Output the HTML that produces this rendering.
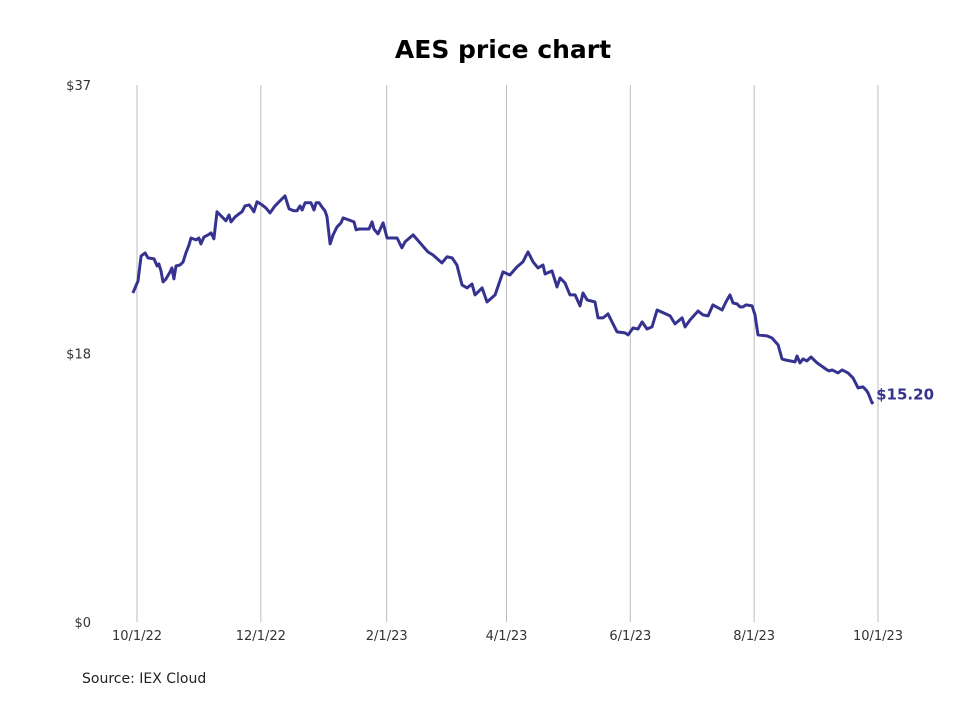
<!DOCTYPE html>
<html><head><meta charset="utf-8"><style>
body{margin:0;background:#fff;}
svg text{font-family:"DejaVu Sans","Liberation Sans",sans-serif;}
</style></head><body>
<svg width="980" height="699" xmlns="http://www.w3.org/2000/svg">
<text x="503" y="58" text-anchor="middle" font-size="25" font-weight="bold" fill="#000">AES price chart</text>
<g id="grid"></g>
<g id="yaxis"></g>
<g id="xaxis"></g>
<path id="line" fill="none" stroke="#35338f" stroke-width="3" stroke-linejoin="round"/>
<text id="lastlbl" font-size="15" font-weight="bold" fill="#35338f"></text>
<text x="82" y="683" font-size="14" fill="#222">Source: IEX Cloud</text>
</svg>
<script>
const days=[-2,0.5,2,4,5.4,8.4,9.9,10.8,11.8,12.8,14.3,16.3,17.2,18.2,19.2,21.2,22.7,24.1,25.6,26.6,29.1,30.5,31.5,33,35,36.5,37.9,39.4,41.9,43.8,45.3,46.3,48.3,50.2,51.7,53.2,55.2,56.7,57.6,59.1,61.6,63.5,65.5,68,70.9,72.9,74.9,77.3,78.8,80.3,81.3,82.8,85.7,87.2,88.2,89.7,91.1,92.6,93.6,95.1,96.6,98.5,100.5,101.5,104.4,106.9,107.9,109.4,112.3,114.3,115.8,116.7,118.7,121.2,123.2,128.1,130.5,132,136,143.3,145.8,150.2,152.7,155.2,157.6,160.1,162.6,165,166.5,170,172.4,176.4,180.3,183.7,187.2,190.1,192.6,195.1,197.5,200,201,204.4,206.9,208.4,210.8,213.3,215.8,218.2,219.7,221.7,225.6,227.1,229.6,232,236.5,240.4,241.9,244.3,246.8,248.8,251.2,253.7,256.2,262.6,265,268.5,270,272.4,276.4,278.8,281.3,283.7,288.2,290.1,292.1,293.6,295.6,297,298.5,300,303,304.4,305.9,310.3,312.8,315.8,317.7,319.2,324.1,325.1,326.6,328.1,330,332,335,339.9,340.9,342.4,345.3,347.3,350.2,352.7,355.2,357.6,359.1,360.1,362.1,362.6];
const prices=[22.67,23.50,25.22,25.43,25.09,25.02,24.53,24.67,24.19,23.43,23.64,24.12,24.40,23.64,24.53,24.60,24.81,25.43,25.98,26.46,26.33,26.46,26.05,26.53,26.67,26.81,26.40,28.26,27.91,27.64,28.05,27.57,27.91,28.12,28.26,28.67,28.74,28.46,28.26,28.95,28.74,28.53,28.19,28.67,29.08,29.36,28.46,28.33,28.33,28.67,28.39,28.88,28.88,28.39,28.88,28.88,28.60,28.33,27.91,26.05,26.67,27.22,27.50,27.84,27.70,27.57,27.02,27.08,27.08,27.08,27.57,27.08,26.74,27.50,26.46,26.46,25.78,26.19,26.67,25.50,25.29,24.74,25.16,25.09,24.60,23.23,23.02,23.29,22.54,23.02,22.05,22.54,24.12,23.91,24.47,24.81,25.50,24.81,24.40,24.60,23.98,24.19,23.09,23.71,23.36,22.54,22.54,21.78,22.67,22.19,22.05,20.95,20.95,21.23,19.99,19.92,19.78,20.26,20.19,20.68,20.19,20.33,21.50,21.09,20.54,20.95,20.33,20.81,21.43,21.16,21.09,21.85,21.50,22.05,22.54,21.98,21.92,21.71,21.71,21.85,21.78,21.16,19.78,19.71,19.57,19.09,18.13,18.06,17.92,18.33,17.85,18.13,17.99,18.26,17.85,17.37,17.30,17.37,17.16,17.37,17.16,16.82,16.13,16.20,15.99,15.78,15.09,15.20];
const xTickDays=[0,61,123,182,243,304,365];
const xTickLabels=["10/1/22","12/1/22","2/1/23","4/1/23","6/1/23","8/1/23","10/1/23"];
const yTickValues=[0,18.5,37];
const yTickLabels=["$0","$18","$37"];
const lastLabel="$15.20";

const X0=137,X1=878,Y0=622,Y1=85;
function xs(d){return X0+(d/365)*(X1-X0);}
function ys(v){return Y0-(v/37)*(Y0-Y1);}
const NS="http://www.w3.org/2000/svg";
const grid=document.getElementById('grid'),xa=document.getElementById('xaxis'),ya=document.getElementById('yaxis');
xTickDays.forEach((d,i)=>{
  const l=document.createElementNS(NS,'line');
  l.setAttribute('x1',xs(d));l.setAttribute('x2',xs(d));l.setAttribute('y1',Y1);l.setAttribute('y2',Y0);
  l.setAttribute('stroke','#bdbdbd');l.setAttribute('stroke-width','1');
  
  
  grid.appendChild(l);
  const t=document.createElementNS(NS,'text');
  t.setAttribute('x',xs(d));t.setAttribute('y',640);t.setAttribute('text-anchor','middle');
  t.setAttribute('font-size','13');t.setAttribute('fill','#333');
  t.textContent=xTickLabels[i];
  
  
  xa.appendChild(t);
});
yTickValues.forEach((v,i)=>{
  const t=document.createElementNS(NS,'text');
  t.setAttribute('x',91);t.setAttribute('y',ys(v)+5);t.setAttribute('text-anchor','end');
  t.setAttribute('font-size','13');t.setAttribute('fill','#333');
  t.textContent=yTickLabels[i];
  
  
  ya.appendChild(t);
});
document.getElementById('line').setAttribute('d',days.map((d,i)=>(i?'L':'M')+xs(d).toFixed(1)+' '+ys(prices[i]).toFixed(1)).join(' '));
const ll=document.getElementById('lastlbl');
ll.setAttribute('x',xs(days[days.length-1])+3);
ll.setAttribute('y',ys(prices[prices.length-1])-2);
ll.textContent=lastLabel;
</script>
</body></html>
